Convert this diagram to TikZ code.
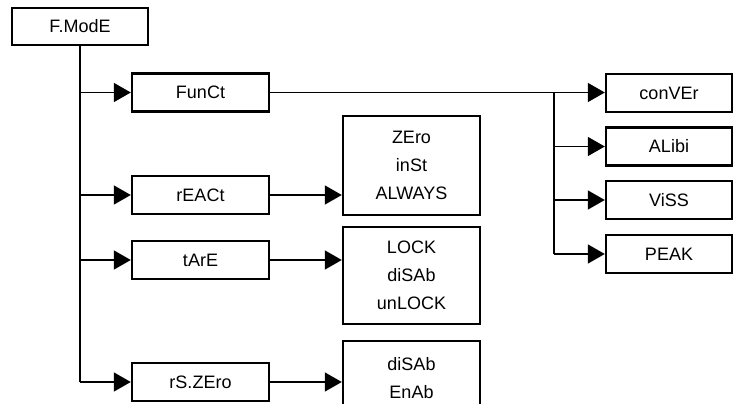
\documentclass[tikz,border=0pt]{standalone}
\usepackage{fontspec}
\setmainfont{Liberation Sans}
\usetikzlibrary{arrows.meta}
\begin{document}
\begin{tikzpicture}[x=1pt,y=-1pt,
  box/.style={draw=black,line width=2.4pt,inner sep=0pt,align=center,
    font=\fontsize{18}{28}\selectfont},
  lbox/.style={box,minimum width=137pt,minimum height=38pt},
  rbox/.style={box,minimum width=126pt,minimum height=38pt},
  wire/.style={draw=black,line width=1.7pt},
  arr/.style={wire,-{Triangle[length=17pt,width=19pt]}}]
\useasboundingbox (0,0) rectangle (734,404);
\begin{scope}
\clip (0,0) rectangle (734,404);
\node[box,minimum width=136pt,minimum height=37pt] (fmode) at (80,26.5) {F.ModE};
\node[lbox] (funct) at (200.5,92.5) {FunCt};
\node[lbox] (react) at (200.5,195) {rEACt};
\node[lbox] (tare) at (200.5,260) {tArE};
\node[lbox] (rszero) at (200.5,382) {rS.ZEro};
\node[box,minimum width=137pt,minimum height=99pt] (zero) at (411.5,165.5) {ZEro\\inSt\\ALWAYS};
\node[box,minimum width=137pt,minimum height=97pt] (lock) at (411.5,275.5) {LOCK\\diSAb\\unLOCK};
\node[box,minimum width=137pt,minimum height=74pt] (enab) at (411.5,378) {diSAb\\EnAb};
\node[rbox] (conver) at (669,93) {conVEr};
\node[rbox] (alibi) at (669,146.5) {ALibi};
\node[rbox] (viss) at (669,200) {ViSS};
\node[rbox] (peak) at (669,254) {PEAK};
\coordinate (br) at (554,92.5);
% trunk
\draw[wire] (fmode.south) -- (fmode.south |- rszero.west);
\draw[arr] (fmode.south |- funct.west) -- (funct.west);
\draw[arr] (fmode.south |- react.west) -- (react.west);
\draw[arr] (fmode.south |- tare.west) -- (tare.west);
\draw[arr] (fmode.south |- rszero.west) -- (rszero.west);
% second level
\draw[arr] (react.east) -- (react.east -| zero.west);
\draw[arr] (tare.east) -- (tare.east -| lock.west);
\draw[arr] (rszero.east) -- (rszero.east -| enab.west);
% function branch
\draw[arr] (funct.east) -- (funct.east -| conver.west);
\draw[wire] (br) -- (br |- peak.west);
\draw[arr] (br |- alibi.west) -- (alibi.west);
\draw[arr] (br |- viss.west) -- (viss.west);
\draw[arr] (br |- peak.west) -- (peak.west);
\end{scope}
\end{tikzpicture}
\end{document}
